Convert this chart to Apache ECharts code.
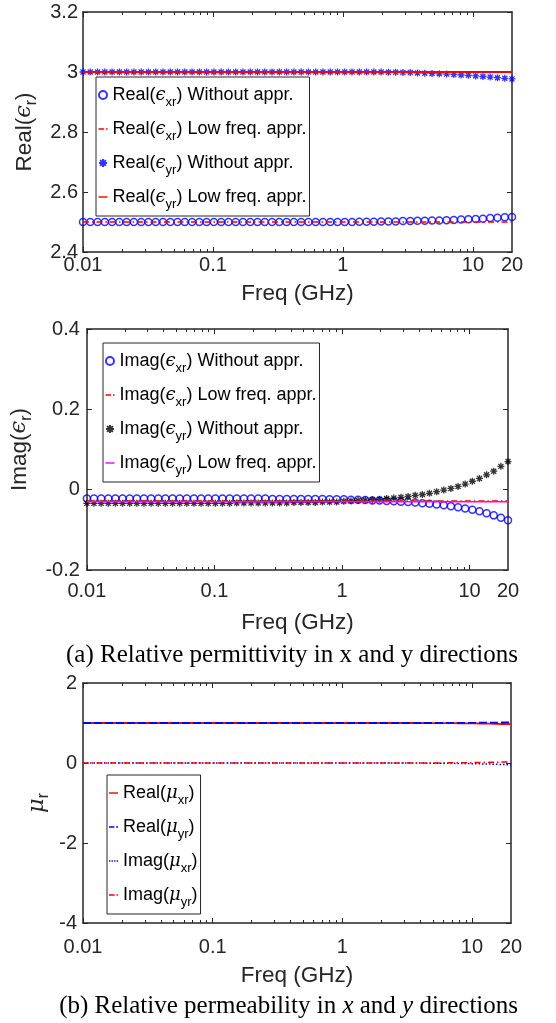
<!DOCTYPE html>
<html>
<head>
<meta charset="utf-8">
<script src="https://cdn.jsdelivr.net/npm/echarts@6/dist/echarts.min.js"></script>
<style>
  html, body { margin: 0; padding: 0; background: #fff; }
  #chart { width: 556px; height: 1023px; }
</style>
</head>
<body>
<div id="chart"></div>
<script>
// frequency samples (GHz)
const freq = [
  0.01, 0.01137, 0.01294, 0.01472, 0.01674, 0.01904, 0.02166, 0.02464, 0.02803, 0.03188,
  0.03627, 0.04126, 0.04693, 0.05338, 0.06072, 0.06908, 0.07857, 0.08938, 0.1017, 0.1156,
  0.1315, 0.1496, 0.1702, 0.1936, 0.2202, 0.2505, 0.2849, 0.3241, 0.3687, 0.4194,
  0.4771, 0.5427, 0.6173, 0.7022, 0.7987, 0.9085, 1.033, 1.175, 1.337, 1.521,
  1.730, 1.968, 2.239, 2.547, 2.897, 3.295, 3.748, 4.264, 4.850, 5.517,
  6.275, 7.138, 8.119, 9.236, 10.51, 11.95, 13.59, 15.46, 17.59, 20.0
];

// panel 1 : Real(eps)
const realExrWithout = [
  2.5, 2.5, 2.5, 2.5, 2.5, 2.5, 2.5, 2.5, 2.5, 2.5,
  2.5, 2.5, 2.5, 2.5, 2.5, 2.5, 2.5, 2.5, 2.5, 2.5,
  2.5, 2.5, 2.5, 2.5, 2.5, 2.5, 2.5, 2.5, 2.5, 2.5,
  2.5, 2.5, 2.5, 2.5, 2.5, 2.5, 2.5, 2.5, 2.501, 2.501,
  2.501, 2.502, 2.502, 2.502, 2.503, 2.503, 2.504, 2.504, 2.505, 2.505,
  2.506, 2.507, 2.508, 2.509, 2.510, 2.511, 2.513, 2.514, 2.516, 2.517
];
const realExrLow = [
  2.5, 2.5, 2.5, 2.5, 2.5, 2.5, 2.5, 2.5, 2.5, 2.5,
  2.5, 2.5, 2.5, 2.5, 2.5, 2.5, 2.5, 2.5, 2.5, 2.5,
  2.5, 2.5, 2.5, 2.5, 2.5, 2.5, 2.5, 2.5, 2.5, 2.5,
  2.5, 2.5, 2.5, 2.5, 2.5, 2.5, 2.5, 2.5, 2.5, 2.5,
  2.5, 2.5, 2.5, 2.5, 2.5, 2.5, 2.5, 2.5, 2.5, 2.5,
  2.5, 2.5, 2.5, 2.5, 2.5, 2.5, 2.5, 2.5, 2.5, 2.5
];
const realEyrWithout = [
  3.0, 3.0, 3.0, 3.0, 3.0, 3.0, 3.0, 3.0, 3.0, 3.0,
  3.0, 3.0, 3.0, 3.0, 3.0, 3.0, 3.0, 3.0, 3.0, 3.0,
  3.0, 3.0, 3.0, 3.0, 3.0, 3.0, 3.0, 3.0, 3.0, 3.0,
  3.0, 3.0, 3.0, 3.0, 3.0, 3.0, 3.0, 3.0, 3.0, 3.0,
  3.0, 3.0, 2.999, 2.999, 2.998, 2.998, 2.997, 2.996, 2.995, 2.994,
  2.993, 2.992, 2.990, 2.989, 2.987, 2.985, 2.983, 2.981, 2.979, 2.977
];
const realEyrLow = [
  3.0, 3.0, 3.0, 3.0, 3.0, 3.0, 3.0, 3.0, 3.0, 3.0,
  3.0, 3.0, 3.0, 3.0, 3.0, 3.0, 3.0, 3.0, 3.0, 3.0,
  3.0, 3.0, 3.0, 3.0, 3.0, 3.0, 3.0, 3.0, 3.0, 3.0,
  3.0, 3.0, 3.0, 3.0, 3.0, 3.0, 3.0, 3.0, 3.0, 3.0,
  3.0, 3.0, 3.0, 3.0, 3.0, 3.0, 3.0, 3.0, 3.0, 3.0,
  3.0, 3.0, 3.0, 3.0, 3.0, 3.0, 3.0, 3.0, 3.0, 3.0
];

// panel 2 : Imag(eps)
const imagExrWithout = [
  -0.022, -0.022, -0.022, -0.022, -0.022, -0.022, -0.022, -0.022, -0.022, -0.022,
  -0.022, -0.022, -0.022, -0.022, -0.022, -0.022, -0.022, -0.022, -0.022, -0.022,
  -0.022, -0.022, -0.022, -0.022, -0.022, -0.022, -0.023, -0.023, -0.023, -0.023,
  -0.023, -0.023, -0.023, -0.023, -0.024, -0.024, -0.024, -0.025, -0.025, -0.026,
  -0.027, -0.027, -0.028, -0.029, -0.030, -0.031, -0.032, -0.034, -0.035, -0.037,
  -0.039, -0.041, -0.044, -0.047, -0.050, -0.054, -0.059, -0.064, -0.070, -0.076
];
const imagExrLow = [
  -0.028, -0.028, -0.028, -0.028, -0.028, -0.028, -0.028, -0.028, -0.028, -0.028,
  -0.028, -0.028, -0.028, -0.028, -0.028, -0.028, -0.028, -0.028, -0.028, -0.028,
  -0.028, -0.028, -0.028, -0.028, -0.028, -0.028, -0.028, -0.028, -0.028, -0.028,
  -0.028, -0.028, -0.028, -0.028, -0.028, -0.028, -0.028, -0.028, -0.028, -0.028,
  -0.028, -0.028, -0.028, -0.028, -0.028, -0.028, -0.028, -0.028, -0.028, -0.028,
  -0.028, -0.028, -0.028, -0.028, -0.028, -0.028, -0.028, -0.028, -0.028, -0.028
];
const imagEyrWithout = [
  -0.034, -0.034, -0.034, -0.034, -0.034, -0.034, -0.034, -0.034, -0.034, -0.034,
  -0.034, -0.034, -0.034, -0.034, -0.034, -0.034, -0.034, -0.034, -0.034, -0.034,
  -0.034, -0.033, -0.033, -0.033, -0.033, -0.033, -0.033, -0.033, -0.033, -0.032,
  -0.032, -0.032, -0.032, -0.031, -0.031, -0.031, -0.029, -0.028, -0.027, -0.026,
  -0.025, -0.024, -0.022, -0.021, -0.019, -0.017, -0.014, -0.012, -0.009, -0.005,
  -0.001, 0.003, 0.008, 0.014, 0.021, 0.028, 0.037, 0.046, 0.058, 0.070
];
const imagEyrLow = [
  -0.030, -0.030, -0.030, -0.030, -0.030, -0.030, -0.030, -0.030, -0.030, -0.030,
  -0.030, -0.030, -0.030, -0.030, -0.030, -0.030, -0.030, -0.030, -0.030, -0.030,
  -0.030, -0.030, -0.030, -0.030, -0.030, -0.030, -0.030, -0.030, -0.030, -0.030,
  -0.030, -0.030, -0.030, -0.030, -0.030, -0.030, -0.030, -0.030, -0.030, -0.030,
  -0.030, -0.030, -0.030, -0.030, -0.030, -0.030, -0.030, -0.030, -0.030, -0.030,
  -0.030, -0.030, -0.030, -0.030, -0.030, -0.030, -0.030, -0.030, -0.030, -0.030
];

// panel 3 : mu
const realMuxr = [
  1, 1, 1, 1, 1, 1, 1, 1, 1, 1,
  1, 1, 1, 1, 1, 1, 1, 1, 1, 1,
  1, 1, 1, 1, 1, 1, 1, 1, 1, 1,
  1, 1, 1, 1, 1, 1, 1, 1, 1, 1,
  1, 1, 1, 1, 1, 1, 1, 1, 0.999, 0.998,
  0.997, 0.996, 0.994, 0.992, 0.990, 0.987, 0.984, 0.980, 0.975, 0.970
];
const realMuyr = [
  1, 1, 1, 1, 1, 1, 1, 1, 1, 1,
  1, 1, 1, 1, 1, 1, 1, 1, 1, 1,
  1, 1, 1, 1, 1, 1, 1, 1, 1, 1,
  1, 1, 1, 1, 1, 1, 1, 1, 1, 1,
  1, 1, 1, 1, 1, 1, 1, 1, 1, 1,
  1.001, 1.002, 1.003, 1.004, 1.005, 1.007, 1.009, 1.011, 1.013, 1.015
];
const imagMuxr = [
  0, 0, 0, 0, 0, 0, 0, 0, 0, 0,
  0, 0, 0, 0, 0, 0, 0, 0, 0, 0,
  0, 0, 0, 0, 0, 0, 0, 0, 0, 0,
  0, 0, 0, 0, 0, 0, 0, 0, 0, 0,
  0, 0, 0, 0, 0, -0.001, -0.002, -0.003, -0.004, -0.005,
  -0.007, -0.009, -0.011, -0.014, -0.018, -0.022, -0.027, -0.033, -0.040, -0.048
];
const imagMuyr = [
  0, 0, 0, 0, 0, 0, 0, 0, 0, 0,
  0, 0, 0, 0, 0, 0, 0, 0, 0, 0,
  0, 0, 0, 0, 0, 0, 0, 0, 0, 0,
  0, 0, 0, 0, 0, 0, 0, 0, 0, 0,
  0, 0, 0, 0, 0, 0, 0, 0, 0.001, 0.002,
  0.003, 0.004, 0.006, 0.008, 0.010, 0.013, 0.016, 0.020, 0.025, 0.030
];

// ticks
const xTickLabels = [0.01, 0.1, 1, 10, 20];
const xMajorTicks = [0.01, 0.1, 1, 10];
const xMinorTicks = [
  0.02, 0.03, 0.04, 0.05, 0.06, 0.07, 0.08, 0.09,
  0.2, 0.3, 0.4, 0.5, 0.6, 0.7, 0.8, 0.9,
  2, 3, 4, 5, 6, 7, 8, 9
];

const axisColor = '#262626';
const sans = 'Liberation Sans, Arial, Helvetica, sans-serif';
const serif = 'Liberation Serif, Times New Roman, serif';
const asterisk = 'path://M0,-5L0,5M-5,0L5,0M-3.6,-3.6L3.6,3.6M-3.6,3.6L3.6,-3.6';

// small legend icons (MATLAB style short line samples)
const iconSolid = 'path://M0,0H10V1.6H0Z';
const iconDashDot = 'path://M0,0H6V1.6H0Z M8,0H9.6V1.6H8Z';
const iconDashed = 'path://M0,0H6V1.6H0Z M8,0H10V1.6H8Z';
const iconDotted = 'path://M0,0H1.6V1.6H0Z M3,0H4.6V1.6H3Z M6,0H7.6V1.6H6Z M9,0H10.6V1.6H9Z';

function pairs(arr) {
  return freq.map((f, i) => [f, arr[i]]);
}

const grids = [
  { left: 83, top: 12, width: 429, height: 240 },
  { left: 84, top: 329, width: 424, height: 241 },
  { left: 83, top: 683, width: 428, height: 240 }
];

function fmtX(v) {
  return String(+Number(v).toPrecision(6));
}

function makeXAxes(gi, labelMargin, nameGap) {
  const base = {
    type: 'log', logBase: 10, min: 0.01, max: 20, gridIndex: gi,
    splitLine: { show: false }
  };
  return [
    Object.assign({}, base, {
      position: 'bottom',
      axisLine: { show: true, onZero: false, lineStyle: { color: axisColor, width: 1.5 } },
      axisTick: { show: true, inside: true, length: 5, customValues: xMajorTicks, lineStyle: { color: axisColor, width: 1 } },
      axisLabel: { customValues: xTickLabels, margin: labelMargin, fontSize: 20, color: axisColor, fontFamily: sans, formatter: fmtX },
      name: 'Freq (GHz)', nameLocation: 'middle', nameGap: nameGap,
      nameTextStyle: { fontSize: 22.5, color: axisColor, fontFamily: sans }
    }),
    Object.assign({}, base, {
      position: 'bottom',
      axisLine: { show: false, onZero: false },
      axisTick: { show: true, inside: true, length: 3, customValues: xMinorTicks, lineStyle: { color: axisColor, width: 1 } },
      axisLabel: { show: false }
    }),
    Object.assign({}, base, {
      position: 'top',
      axisLine: { show: true, onZero: false, lineStyle: { color: axisColor, width: 1.5 } },
      axisTick: { show: true, inside: true, length: 5, customValues: xMajorTicks, lineStyle: { color: axisColor, width: 1 } },
      axisLabel: { show: false }
    }),
    Object.assign({}, base, {
      position: 'top',
      axisLine: { show: false, onZero: false },
      axisTick: { show: true, inside: true, length: 3, customValues: xMinorTicks, lineStyle: { color: axisColor, width: 1 } },
      axisLabel: { show: false }
    })
  ];
}

const nameRich = {
  n: { fontSize: 22.5, fontFamily: sans, color: axisColor, lineHeight: 30 },
  g: { fontSize: 22.5, fontFamily: 'DejaVu Serif, serif', fontStyle: 'italic', color: axisColor, lineHeight: 30 },
  s: { fontSize: 16, fontFamily: sans, color: axisColor, lineHeight: 16, verticalAlign: 'bottom' }
};

function makeYAxes(gi, min, max, interval, name, labelMargin, nameGap, moveOverlap) {
  const base = {
    type: 'value', gridIndex: gi, min: min, max: max, interval: interval,
    splitLine: { show: false }
  };
  return [
    Object.assign({}, base, {
      position: 'left',
      axisLine: { show: true, onZero: false, lineStyle: { color: axisColor, width: 1.5 } },
      axisTick: { show: true, inside: true, length: 5, lineStyle: { color: axisColor, width: 1 } },
      axisLabel: { margin: labelMargin, fontSize: 20, color: axisColor, fontFamily: sans },
      name: name, nameLocation: 'middle', nameRotate: 90, nameGap: nameGap,
      nameMoveOverlap: moveOverlap,
      nameTextStyle: { rich: nameRich }
    }),
    Object.assign({}, base, {
      position: 'right',
      axisLine: { show: true, onZero: false, lineStyle: { color: axisColor, width: 1.5 } },
      axisTick: { show: true, inside: true, length: 5, lineStyle: { color: axisColor, width: 1 } },
      axisLabel: { show: false }
    })
  ];
}

// legend labels with subscripts
const legendText = {
  'Real(ϵxr) Without appr.': '{n|Real(}{g|ϵ}{s|xr}{n|) Without appr.}',
  'Real(ϵxr) Low freq. appr.': '{n|Real(}{g|ϵ}{s|xr}{n|) Low freq. appr.}',
  'Real(ϵyr) Without appr.': '{n|Real(}{g|ϵ}{s|yr}{n|) Without appr.}',
  'Real(ϵyr) Low freq. appr.': '{n|Real(}{g|ϵ}{s|yr}{n|) Low freq. appr.}',
  'Imag(ϵxr) Without appr.': '{n|Imag(}{g|ϵ}{s|xr}{n|) Without appr.}',
  'Imag(ϵxr) Low freq. appr.': '{n|Imag(}{g|ϵ}{s|xr}{n|) Low freq. appr.}',
  'Imag(ϵyr) Without appr.': '{n|Imag(}{g|ϵ}{s|yr}{n|) Without appr.}',
  'Imag(ϵyr) Low freq. appr.': '{n|Imag(}{g|ϵ}{s|yr}{n|) Low freq. appr.}',
  'Real(μxr)': '{n|Real(}{g|μ}{s|xr}{n|)}',
  'Real(μyr)': '{n|Real(}{g|μ}{s|yr}{n|)}',
  'Imag(μxr)': '{n|Imag(}{g|μ}{s|xr}{n|)}',
  'Imag(μyr)': '{n|Imag(}{g|μ}{s|yr}{n|)}'
};

const legendRich = {
  n: { fontSize: 18, fontFamily: sans, color: '#000', lineHeight: 28 },
  g: { fontSize: 18, fontFamily: 'DejaVu Serif, serif', fontStyle: 'italic', color: '#000', lineHeight: 28 },
  s: { fontSize: 13, fontFamily: sans, color: '#000', lineHeight: 13, verticalAlign: 'bottom' }
};

function makeLegend(items, left, top) {
  return {
    orient: 'vertical', left: left, top: top,
    data: items,
    selectedMode: false,
    itemWidth: 9, itemHeight: 8, itemGap: 11,
    padding: [9, 3, 5, 2],
    backgroundColor: '#fff',
    borderColor: axisColor, borderWidth: 1,
    formatter: name => legendText[name],
    textStyle: { rich: legendRich }
  };
}

function markerSeries(name, gi, arr, symbol, color, bw) {
  return {
    name: name, type: 'scatter', xAxisIndex: gi * 4, yAxisIndex: gi * 2,
    data: pairs(arr), symbol: symbol, symbolSize: 7,
    itemStyle: { color: 'rgba(0,0,0,0)', borderColor: color, borderWidth: bw }
  };
}

function lineSeries(name, gi, arr, color, type, width) {
  return {
    name: name, type: 'line', xAxisIndex: gi * 4, yAxisIndex: gi * 2,
    data: pairs(arr), symbol: 'none',
    itemStyle: { color: color },
    lineStyle: { color: color, width: width, type: type }
  };
}

const dashDot = [6, 3, 1.5, 3];

const option = {
  animation: false,
  backgroundColor: '#fff',
  grid: grids,
  title: [
    {
      text: '(a) Relative permittivity in x and y directions',
      right: 38, top: 643, padding: 0,
      textStyle: { fontFamily: serif, fontSize: 25, fontWeight: 'normal', color: '#000' }
    },
    {
      text: '{n|(b) Relative permeability in }{i|x}{n| and }{i|y}{n| directions}',
      right: 38, top: 994, padding: 0,
      textStyle: {
        fontWeight: 'normal',
        rich: {
          n: { fontFamily: serif, fontSize: 25, fontWeight: 'normal', color: '#000' },
          i: { fontFamily: serif, fontSize: 25, fontWeight: 'normal', fontStyle: 'italic', color: '#000' }
        }
      }
    }
  ],
  xAxis: [].concat(
    makeXAxes(0, 3, 30),
    makeXAxes(1, 11, 41),
    makeXAxes(2, 14, 41)
  ),
  yAxis: [].concat(
    makeYAxes(0, 2.4, 3.2, 0.2, '{n|Real(}{g|ϵ}{s|r}{n|)}', 5, 43, true),
    makeYAxes(1, -0.2, 0.4, 0.2, '{n|Imag(}{g|ϵ}{s|r}{n|)}', 7, 52, true),
    makeYAxes(2, -4, 2, 2, '{g|μ}{s|r}', 6, 31, false)
  ),
  legend: [
    makeLegend([
      { name: 'Real(ϵxr) Without appr.' },
      { name: 'Real(ϵxr) Low freq. appr.', icon: iconDashDot },
      { name: 'Real(ϵyr) Without appr.' },
      { name: 'Real(ϵyr) Low freq. appr.', icon: iconSolid }
    ], 96, 77),
    makeLegend([
      { name: 'Imag(ϵxr) Without appr.' },
      { name: 'Imag(ϵxr) Low freq. appr.', icon: iconDashDot },
      { name: 'Imag(ϵyr) Without appr.' },
      { name: 'Imag(ϵyr) Low freq. appr.', icon: iconSolid }
    ], 103, 343),
    makeLegend([
      { name: 'Real(μxr)', icon: iconSolid },
      { name: 'Real(μyr)', icon: iconDashed },
      { name: 'Imag(μxr)', icon: iconDotted },
      { name: 'Imag(μyr)', icon: iconDashDot }
    ], 107, 775)
  ],
  series: [
    markerSeries('Real(ϵxr) Without appr.', 0, realExrWithout, 'circle', '#0000ff', 1.5),
    lineSeries('Real(ϵxr) Low freq. appr.', 0, realExrLow, '#ff0000', dashDot, 1.5),
    markerSeries('Real(ϵyr) Without appr.', 0, realEyrWithout, asterisk, '#0000ff', 1.3),
    lineSeries('Real(ϵyr) Low freq. appr.', 0, realEyrLow, '#ff0000', 'solid', 1.8),

    markerSeries('Imag(ϵxr) Without appr.', 1, imagExrWithout, 'circle', '#0000ff', 1.5),
    lineSeries('Imag(ϵxr) Low freq. appr.', 1, imagExrLow, '#ff0000', dashDot, 1.5),
    markerSeries('Imag(ϵyr) Without appr.', 1, imagEyrWithout, asterisk, '#000000', 1.3),
    lineSeries('Imag(ϵyr) Low freq. appr.', 1, imagEyrLow, '#ff00ff', 'solid', 1.5),

    lineSeries('Real(μxr)', 2, realMuxr, '#ff0000', 'solid', 1.8),
    lineSeries('Real(μyr)', 2, realMuyr, '#0000ff', [8, 3], 1.8),
    lineSeries('Imag(μxr)', 2, imagMuxr, '#0000ff', [1.5, 2], 1.5),
    lineSeries('Imag(μyr)', 2, imagMuyr, '#ff0000', dashDot, 1.5)
  ]
};

const myChart = echarts.init(document.getElementById('chart'));
myChart.setOption(option);
</script>
</body>
</html>
